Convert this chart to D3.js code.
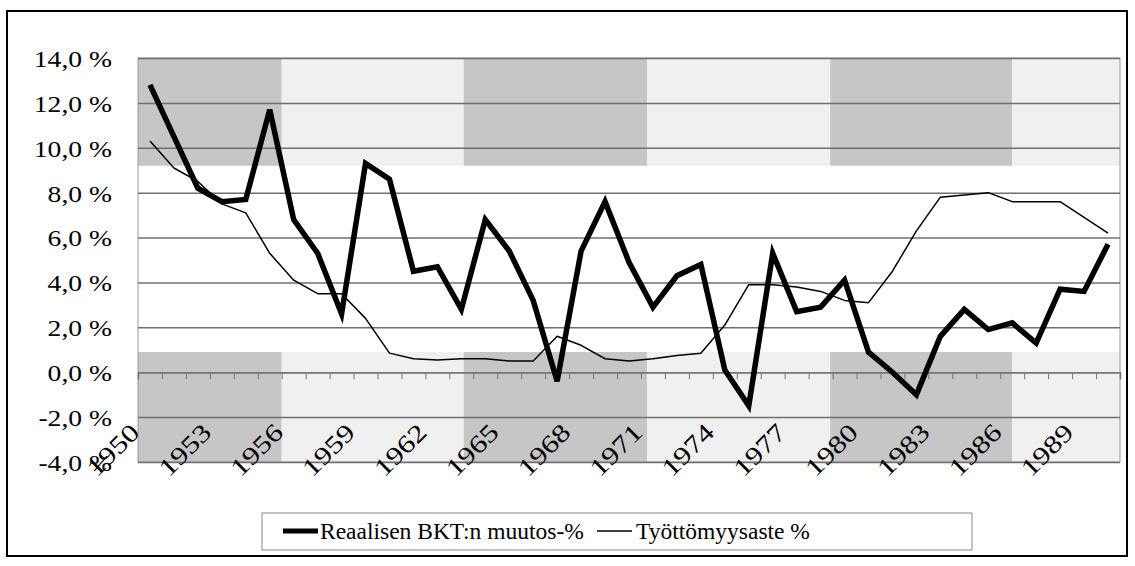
<!DOCTYPE html>
<html>
<head>
<meta charset="utf-8">
<script src="https://cdn.jsdelivr.net/npm/d3@7/dist/d3.min.js"></script>
<style>
  body { margin: 0; background: #fff; }
</style>
</head>
<body>
<div id="chart"></div>
<script>
// years 1950..1990
const years = d3.range(1950, 1991);
const yearLabels = [1950, 1953, 1956, 1959, 1962, 1965, 1968, 1971, 1974, 1977, 1980, 1983, 1986, 1989];
const yTicks = [-4, -2, 0, 2, 4, 6, 8, 10, 12, 14];

// Reaalisen BKT:n muutos-%
const gdpChange = [
    12.8, 10.5, 8.2, 7.6, 7.7, 11.7, 6.8, 5.3, 2.6, 9.3,
    8.6, 4.5, 4.7, 2.8, 6.8, 5.4, 3.2, -0.4, 5.4, 7.6,
    4.9, 2.9, 4.3, 4.8, 0.1, -1.5, 5.3, 2.7, 2.9, 4.1,
    0.9, 0.0, -1.0, 1.6, 2.8, 1.9, 2.2, 1.3, 3.7, 3.6,
    5.7
];
// Työttömyysaste %
const unemployment = [
    10.3, 9.1, 8.5, 7.5, 7.1, 5.3, 4.1, 3.5, 3.5, 2.4,
    0.85, 0.6, 0.55, 0.6, 0.6, 0.5, 0.5, 1.6, 1.2, 0.6,
    0.5, 0.6, 0.75, 0.85, 2.1, 3.9, 3.9, 3.8, 3.6, 3.2,
    3.1, 4.5, 6.3, 7.8, 7.9, 8.0, 7.6, 7.6, 7.6, 6.9,
    6.2
];
const seriesNames = ['Reaalisen BKT:n muutos-%', 'Työttömyysaste %'];

// shaded background bands in year units [from, to, shade]
const bandsX = [
    [1949.5, 1955.5, 'dark'], [1955.5, 1963.1, 'light'],
    [1963.1, 1970.75, 'dark'], [1970.75, 1978.4, 'light'],
    [1978.4, 1986.0, 'dark'], [1986.0, 1990.5, 'light']
];
// vertical extents of the shading in % units
const bandsY = [[14, 9.2], [0.9, -4]];

const FONT = '"Liberation Serif", "Times New Roman", "DejaVu Serif", serif';
const width = 1135, height = 566;
const margin = {top: 58, right: 15, bottom: 104, left: 138};

const svg = d3.select('#chart')
    .append('svg')
        .attr('width', width)
        .attr('height', height)
        .style('font-family', FONT);

// outer frame
svg.append('rect')
    .attr('x', 7).attr('y', 11)
    .attr('width', 1120).attr('height', 545)
    .attr('fill', 'none')
    .attr('stroke', '#000')
    .attr('stroke-width', 2);

let x = d3.scaleBand()
    .domain(years)
    .range([margin.left, width - margin.right])
    .padding(0);
const xc = (yr) => x(yr) + x.bandwidth() / 2;
// continuous year scale for the band shading
let xLin = d3.scaleLinear()
    .domain([1949.5, 1990.5])
    .range([margin.left, width - margin.right]);

let y = d3.scaleLinear()
    .domain([-4, 14])
    .range([height - margin.bottom, margin.top]);

// background shading
bandsX.forEach(b => {
    bandsY.forEach(v => {
        svg.append('rect')
            .attr('x', xLin(b[0]))
            .attr('y', y(v[0]))
            .attr('width', xLin(b[1]) - xLin(b[0]))
            .attr('height', y(v[1]) - y(v[0]))
            .attr('fill', b[2] === 'dark' ? '#c6c6c6' : '#f0f0f0');
    });
});

// plot frame
svg.append('rect')
    .attr('x', margin.left).attr('y', margin.top)
    .attr('width', width - margin.right - margin.left)
    .attr('height', height - margin.bottom - margin.top)
    .attr('fill', 'none')
    .attr('stroke', '#999')
    .attr('stroke-width', 1);

// y axis with grid lines
const yAxis = svg.append('g')
    .attr('transform', `translate(${margin.left},0)`)
    .call(d3.axisLeft(y)
        .tickValues(yTicks)
        .tickSize(-(width - margin.right - margin.left))
        .tickPadding(0)
        .tickFormat(d => d3.format('.1f')(d).replace('.', ',').replace('−', '-') + ' %'));
yAxis.attr('font-family', null);
yAxis.select('.domain').remove();
yAxis.selectAll('line')
    .attr('stroke', '#6f6f6f')
    .attr('stroke-width', 1.5);
yAxis.selectAll('text')
    .attr('x', 0)
    .attr('dy', '0.35em')
    .attr('transform', 'translate(-26,0) scale(1.15,1)')
    .style('font-family', FONT)
    .style('font-size', '24px');

// category axis at zero
const xAxis = svg.append('g')
    .attr('transform', `translate(0,${y(0)})`)
    .call(d3.axisBottom(xLin)
        .tickValues(d3.range(1949.5, 1991, 1))
        .tickSize(7)
        .tickFormat(''));
xAxis.selectAll('line').attr('stroke', '#777');
xAxis.select('.domain').attr('stroke', '#777').attr('stroke-width', 1.5);

// rotated year labels near bottom of the plot
svg.append('g')
    .selectAll('text')
    .data(yearLabels)
    .join('text')
        .attr('transform', d => `translate(${xc(d) - 9},${y(-2.75)}) rotate(-45) scale(1.25,1)`)
        .attr('text-anchor', 'end')
        .style('font-family', FONT)
        .style('font-size', '25px')
        .text(d => d);

// lines
let line = (vals) => d3.line()
    .x((d, i) => xc(years[i]))
    .y(d => y(d))(vals);

svg.append('path')
    .attr('fill', 'none')
    .attr('stroke', '#000')
    .attr('stroke-width', 1.5)
    .attr('stroke-linejoin', 'round')
    .attr('d', line(unemployment));

svg.append('path')
    .attr('fill', 'none')
    .attr('stroke', '#000')
    .attr('stroke-width', 5.5)
    .attr('stroke-linejoin', 'miter')
    .attr('d', line(gdpChange));

// legend
const legend = svg.append('g');
legend.append('rect')
    .attr('x', 262).attr('y', 513)
    .attr('width', 710).attr('height', 37)
    .attr('fill', '#fff')
    .attr('stroke', '#888')
    .attr('stroke-width', 1);
legend.append('line')
    .attr('x1', 283).attr('x2', 318)
    .attr('y1', 531).attr('y2', 531)
    .attr('stroke', '#000').attr('stroke-width', 5);
legend.append('text')
    .attr('x', 320).attr('y', 539)
    .style('font-family', FONT)
    .style('font-size', '23.5px')
    .text(seriesNames[0]);
legend.append('line')
    .attr('x1', 597).attr('x2', 632)
    .attr('y1', 531).attr('y2', 531)
    .attr('stroke', '#000').attr('stroke-width', 1.5);
legend.append('text')
    .attr('x', 636).attr('y', 539)
    .style('font-family', FONT)
    .style('font-size', '23.5px')
    .text(seriesNames[1]);
</script>
</body>
</html>
